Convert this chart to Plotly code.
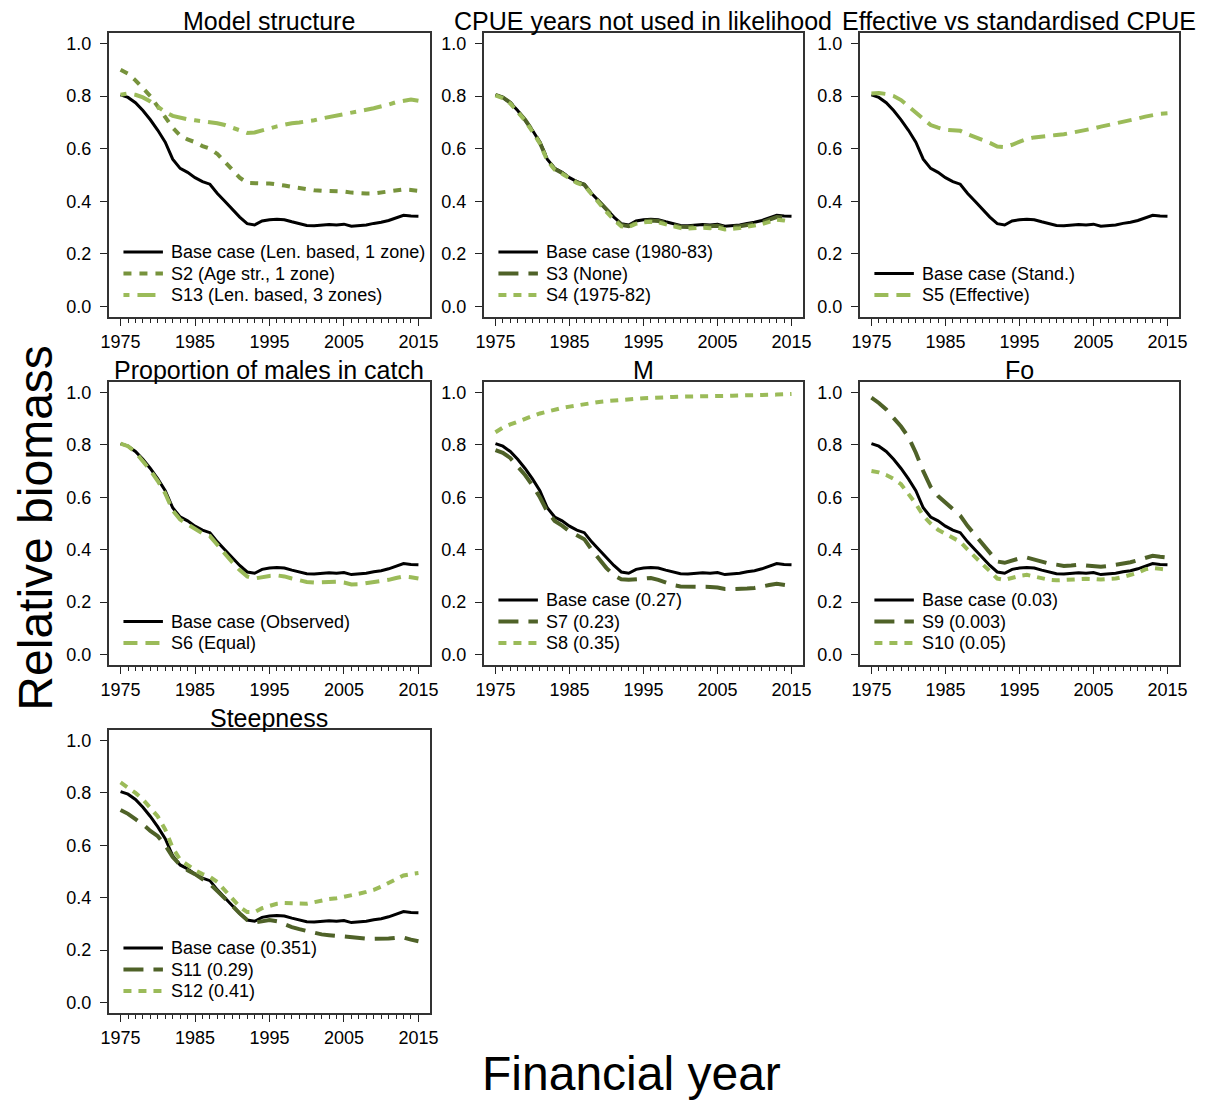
import plotly.graph_objects as go

# ---- data -------------------------------------------------------------
YEARS = list(range(1975, 2016))

BASE = [0.805, 0.795, 0.775, 0.745, 0.710, 0.670, 0.625, 0.560, 0.525, 0.510,
        0.490, 0.475, 0.465, 0.430, 0.400, 0.370, 0.340, 0.315, 0.310, 0.325,
        0.330, 0.332, 0.330, 0.322, 0.315, 0.308, 0.307, 0.310, 0.312, 0.310,
        0.313, 0.305, 0.308, 0.310, 0.316, 0.320, 0.327, 0.338, 0.347, 0.344,
        0.343]

S2 = [0.900, 0.885, 0.860, 0.830, 0.800, 0.760, 0.720, 0.680, 0.650, 0.635,
      0.625, 0.610, 0.600, 0.580, 0.550, 0.520, 0.490, 0.470, 0.468, 0.468,
      0.468, 0.465, 0.460, 0.455, 0.450, 0.445, 0.442, 0.440, 0.440, 0.438,
      0.437, 0.433, 0.430, 0.430, 0.430, 0.433, 0.436, 0.440, 0.445, 0.443,
      0.440]

S13 = [0.805, 0.810, 0.805, 0.795, 0.780, 0.760, 0.740, 0.725, 0.718, 0.712,
       0.708, 0.705, 0.703, 0.697, 0.690, 0.680, 0.668, 0.660, 0.662, 0.668,
       0.677, 0.685, 0.692, 0.697, 0.700, 0.703, 0.708, 0.715, 0.720, 0.727,
       0.733, 0.738, 0.743, 0.748, 0.754, 0.760, 0.768, 0.777, 0.783, 0.787,
       0.782]

S3 = [0.805, 0.795, 0.775, 0.745, 0.710, 0.668, 0.623, 0.558, 0.523, 0.508,
      0.488, 0.473, 0.463, 0.428, 0.398, 0.368, 0.335, 0.310, 0.305, 0.318,
      0.325, 0.327, 0.325, 0.318, 0.310, 0.303, 0.302, 0.305, 0.307, 0.305,
      0.307, 0.300, 0.302, 0.305, 0.310, 0.314, 0.320, 0.330, 0.340, 0.338,
      0.335]

S4 = [0.803, 0.792, 0.772, 0.742, 0.707, 0.665, 0.620, 0.555, 0.520, 0.505,
      0.486, 0.470, 0.460, 0.425, 0.393, 0.360, 0.330, 0.305, 0.302, 0.315,
      0.320, 0.322, 0.320, 0.312, 0.305, 0.298, 0.296, 0.298, 0.300, 0.298,
      0.300, 0.293, 0.295, 0.298, 0.303, 0.307, 0.313, 0.322, 0.330, 0.327,
      0.322]

S5 = [0.810, 0.812, 0.808, 0.800, 0.785, 0.760, 0.740, 0.710, 0.690, 0.680,
      0.672, 0.670, 0.668, 0.655, 0.645, 0.635, 0.622, 0.608, 0.606, 0.615,
      0.628, 0.637, 0.643, 0.647, 0.650, 0.652, 0.655, 0.660, 0.665, 0.670,
      0.677, 0.684, 0.690, 0.695, 0.700, 0.707, 0.715, 0.722, 0.728, 0.733,
      0.735]

S6 = [0.805, 0.795, 0.772, 0.740, 0.703, 0.662, 0.615, 0.550, 0.515, 0.497,
      0.478, 0.462, 0.452, 0.418, 0.385, 0.352, 0.322, 0.298, 0.290, 0.296,
      0.300, 0.302, 0.298, 0.290, 0.283, 0.277, 0.275, 0.276, 0.277, 0.278,
      0.275, 0.267, 0.268, 0.272, 0.277, 0.280, 0.285, 0.292, 0.298, 0.295,
      0.290]

S7 = [0.780, 0.770, 0.750, 0.720, 0.685, 0.645, 0.600, 0.545, 0.510, 0.492,
      0.470, 0.455, 0.440, 0.400, 0.365, 0.330, 0.302, 0.287, 0.285, 0.287,
      0.290, 0.292, 0.285, 0.275, 0.265, 0.260, 0.260, 0.260, 0.260, 0.258,
      0.256, 0.250, 0.250, 0.250, 0.252, 0.254, 0.258, 0.265, 0.270, 0.267,
      0.262]

S8 = [0.848, 0.866, 0.878, 0.890, 0.900, 0.910, 0.920, 0.928, 0.935, 0.941,
      0.946, 0.951, 0.956, 0.960, 0.964, 0.967, 0.970, 0.972, 0.974, 0.976,
      0.978, 0.980, 0.981, 0.982, 0.983, 0.984, 0.984, 0.985, 0.985, 0.986,
      0.986, 0.987, 0.988, 0.988, 0.989, 0.990, 0.990, 0.991, 0.992, 0.993,
      0.994]

S9 = [0.980, 0.960, 0.935, 0.905, 0.870, 0.830, 0.770, 0.700, 0.640, 0.605,
      0.580, 0.555, 0.530, 0.490, 0.455, 0.420, 0.390, 0.355, 0.350, 0.360,
      0.367, 0.370, 0.363, 0.353, 0.347, 0.343, 0.338, 0.340, 0.343, 0.340,
      0.338, 0.335, 0.338, 0.342, 0.347, 0.352, 0.360, 0.370, 0.377, 0.373,
      0.370]

S10 = [0.700, 0.695, 0.685, 0.670, 0.650, 0.615, 0.575, 0.530, 0.500, 0.476,
       0.460, 0.445, 0.430, 0.400, 0.375, 0.345, 0.318, 0.290, 0.285, 0.293,
       0.300, 0.304, 0.298, 0.290, 0.285, 0.283, 0.285, 0.288, 0.290, 0.289,
       0.288, 0.286, 0.288, 0.290, 0.296, 0.303, 0.312, 0.325, 0.330, 0.327,
       0.324]

S11 = [0.735, 0.720, 0.700, 0.680, 0.655, 0.635, 0.600, 0.555, 0.525, 0.505,
       0.490, 0.470, 0.452, 0.425, 0.400, 0.370, 0.340, 0.315, 0.305, 0.310,
       0.315, 0.310, 0.298, 0.288, 0.280, 0.272, 0.265, 0.260, 0.257, 0.254,
       0.252, 0.248, 0.246, 0.244, 0.243, 0.243, 0.244, 0.247, 0.248, 0.240,
       0.234]

S12 = [0.840, 0.820, 0.800, 0.775, 0.745, 0.710, 0.660, 0.590, 0.545, 0.525,
       0.505, 0.490, 0.480, 0.460, 0.430, 0.395, 0.365, 0.345, 0.345, 0.360,
       0.370, 0.377, 0.380, 0.380, 0.378, 0.377, 0.383, 0.390, 0.395, 0.398,
       0.403, 0.408, 0.415, 0.422, 0.430, 0.442, 0.455, 0.470, 0.485, 0.490,
       0.494]

X_TICKS = [1975, 1985, 1995, 2005, 2015]
Y_TICKS = [0.0, 0.2, 0.4, 0.6, 0.8, 1.0]
Y_TICK_TEXT = ["0.0", "0.2", "0.4", "0.6", "0.8", "1.0"]

# ---- line styles ------------------------------------------------------
DARK = "#4f6228"
MID = "#77933c"
LIGHT = "#9bbb59"

STYLE = {
    "base": dict(color="black", width=3, dash="solid"),
    "mid_dot": dict(color=MID, width=4, dash="8px,8px"),
    "light_twodash": dict(color=LIGHT, width=4, dash="6px,8px,18px,8px"),
    "dark_long": dict(color=DARK, width=4, dash="20px,10px"),
    "light_short": dict(color=LIGHT, width=4, dash="8px,7px"),
    "light_dash": dict(color=LIGHT, width=4, dash="14px,8px"),
}

PANELS = [
    ("Model structure", 0, 0, [
        ("Base case (Len. based, 1 zone)", BASE, "base"),
        ("S2 (Age str., 1 zone)", S2, "mid_dot"),
        ("S13 (Len. based, 3 zones)", S13, "light_twodash")]),
    ("CPUE years not used in likelihood", 0, 1, [
        ("Base case (1980-83)", BASE, "base"),
        ("S3 (None)", S3, "dark_long"),
        ("S4 (1975-82)", S4, "light_short")]),
    ("Effective vs standardised CPUE", 0, 2, [
        ("Base case (Stand.)", BASE, "base"),
        ("S5 (Effective)", S5, "light_dash")]),
    ("Proportion of males in catch", 1, 0, [
        ("Base case (Observed)", BASE, "base"),
        ("S6 (Equal)", S6, "light_dash")]),
    ("M", 1, 1, [
        ("Base case (0.27)", BASE, "base"),
        ("S7 (0.23)", S7, "dark_long"),
        ("S8 (0.35)", S8, "light_short")]),
    ("Fo", 1, 2, [
        ("Base case (0.03)", BASE, "base"),
        ("S9 (0.003)", S9, "dark_long"),
        ("S10 (0.05)", S10, "light_short")]),
    ("Steepness", 2, 0, [
        ("Base case (0.351)", BASE, "base"),
        ("S11 (0.29)", S11, "dark_long"),
        ("S12 (0.41)", S12, "light_short")]),
]

# ---- layout geometry (pixels) ----------------------------------------
W, H = 1211, 1104
COL_X = [(102, 428), (482, 806), (863, 1187)]
ROW_Y = [(33, 317), (382, 665), (730, 1013)]
FONT = "Liberation Sans, Arial, sans-serif"

fig = go.Figure()
layout = dict(
    width=W, height=H,
    margin=dict(l=0, r=0, t=0, b=0),
    paper_bgcolor="white", plot_bgcolor="white",
    font=dict(family=FONT, color="black"),
    showlegend=False,
)
shapes, annotations = [], []

for k, (title, r, c, series) in enumerate(PANELS, start=1):
    sfx = "" if k == 1 else str(k)
    xref, yref = "x" + sfx, "y" + sfx
    x0, x1 = COL_X[c]
    y0, y1 = ROW_Y[r]
    bw, bh = x1 - x0, y1 - y0

    for name, vals, sty in series:
        fig.add_trace(go.Scatter(
            x=YEARS, y=vals, mode="lines", name=name,
            line=STYLE[sty], xaxis=xref, yaxis=yref,
        ))

    layout["xaxis" + sfx] = dict(
        domain=[x0 / W, x1 / W], anchor=yref,
        range=[1973.4, 2016.6], tickvals=X_TICKS,
        ticks="outside", ticklen=7, tickwidth=1.3, tickcolor="#222",
        minor=dict(tickvals=YEARS, ticks="outside", ticklen=4,
                   tickwidth=1, tickcolor="#222"),
        showline=True, mirror=True, linecolor="#333", linewidth=1.5,
        showgrid=False, zeroline=False, ticklabelstandoff=1,
        tickfont=dict(size=18, family=FONT, color="black"),
    )
    layout["yaxis" + sfx] = dict(
        domain=[1 - y1 / H, 1 - y0 / H], anchor=xref,
        range=[-0.04, 1.04], tickvals=Y_TICKS, ticktext=Y_TICK_TEXT,
        ticks="outside", ticklen=7, tickwidth=1.3, tickcolor="#222",
        showline=True, mirror=True, linecolor="#333", linewidth=1.5,
        showgrid=False, zeroline=False, ticklabelstandoff=5,
        tickfont=dict(size=18, family=FONT, color="black"),
    )

    # panel title
    annotations.append(dict(
        text=title, xref="paper", yref="paper",
        x=(x0 + x1) / 2 / W, y=1 - (y0 + 4) / H,
        xanchor="center", yanchor="bottom", showarrow=False,
        font=dict(size=25, family=FONT, color="black"),
    ))

    # in-panel key: rows stacked upward from the bottom of the box
    n = len(series)
    for i, (name, vals, sty) in enumerate(series):
        off_px = 22 + 21.5 * (n - 1 - i)
        yy = off_px / bh
        st = STYLE[sty]
        shapes.append(dict(
            type="line", xref=xref + " domain", yref=yref + " domain",
            x0=15 / bw, x1=55 / bw, y0=yy, y1=yy,
            line=dict(color=st["color"], width=st["width"], dash=st["dash"]),
        ))
        annotations.append(dict(
            text=name, xref=xref + " domain", yref=yref + " domain",
            x=61 / bw, y=yy, xanchor="left", yanchor="middle",
            showarrow=False,
            font=dict(size=18, family=FONT, color="black"),
        ))

# shared axis titles
annotations.append(dict(
    text="Relative biomass", xref="paper", yref="paper",
    x=27 / W, y=1 - 528 / H, xanchor="center", yanchor="middle",
    textangle=-90, showarrow=False,
    font=dict(size=48, family=FONT, color="black"),
))
annotations.append(dict(
    text="Financial year", xref="paper", yref="paper",
    x=632 / W, y=1 - 1073 / H, xanchor="center", yanchor="middle",
    showarrow=False,
    font=dict(size=48, family=FONT, color="black"),
))

layout["shapes"] = shapes
layout["annotations"] = annotations
fig.update_layout(**layout)
fig.write_html("out.html")
